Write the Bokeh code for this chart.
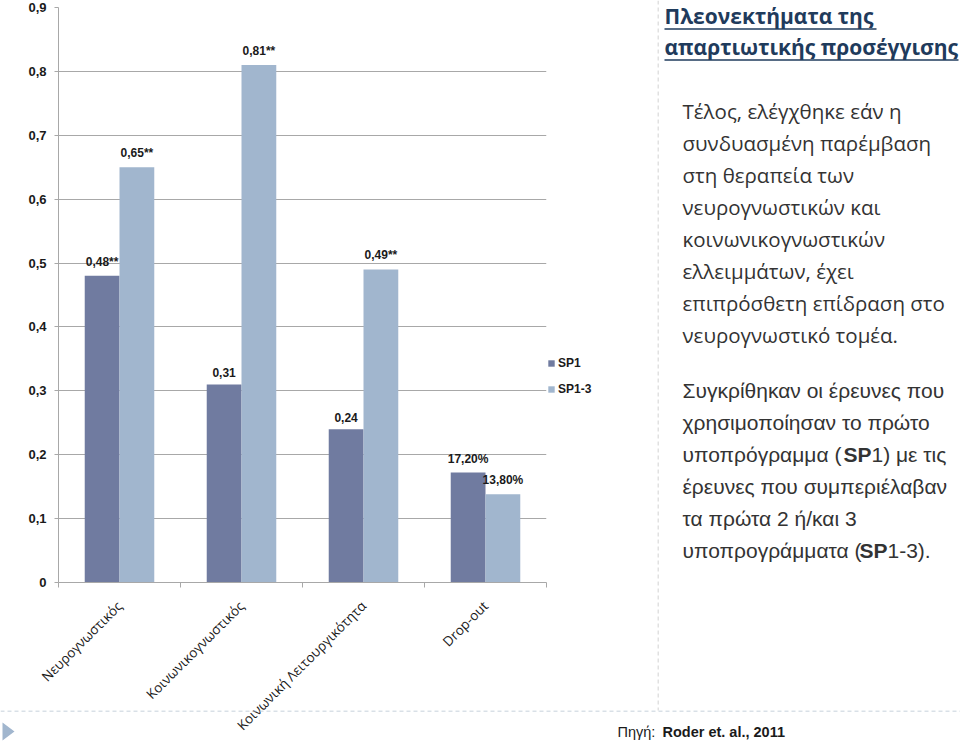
from math import pi
from bokeh.plotting import figure
from bokeh.layouts import column, row
from bokeh.models import (Range1d, FixedTicker, CustomJSTickFormatter, Legend, LegendItem,
                          Label, ColumnDataSource)
from bokeh.embed import file_html
from bokeh.resources import INLINE
from bokeh.core.properties import value

# ---------------- data ----------------
categories = ["Νευρογνωστικός", "Κοινωνικογνωστικός", "Κοινωνική Λειτουργικότητα", "Drop-out"]
series_names = ["SP1", "SP1-3"]
sp1_values = [0.48, 0.31, 0.24, 0.172]
sp13_values = [0.65, 0.81, 0.49, 0.138]
sp1_labels = ["0,48**", "0,31", "0,24", "17,20%"]
sp13_labels = ["0,65**", "0,81**", "0,49**", "13,80%"]
y_ticks = [0, 0.1, 0.2, 0.3, 0.4, 0.5, 0.6, 0.7, 0.8, 0.9]

title_lines = ["Πλεονεκτήματα της", "απαρτιωτικής προσέγγισης"]
paragraph1 = ["Τέλος, ελέγχθηκε εάν η", "συνδυασμένη παρέμβαση", "στη θεραπεία των",
              "νευρογνωστικών και", "κοινωνικογνωστικών", "ελλειμμάτων, έχει",
              "επιπρόσθετη επίδραση στο", "νευρογνωστικό τομέα."]
# paragraph 2: list of lines, each line a list of (text, bold) pieces
paragraph2 = [
    [("Συγκρίθηκαν οι έρευνες που", False)],
    [("χρησιμοποίησαν το πρώτο", False)],
    [("υποπρόγραμμα (", False), ("SP", True), ("1) με τις", False)],
    [("έρευνες που συμπεριέλαβαν", False)],
    [("τα πρώτα 2 ή/και 3", False)],
    [("υποπρογράμματα (", False), ("SP", True), ("1-3).", False)],
]
source_pieces = [("Πηγή: ", False), ("Roder et. al., 2011", True)]

# ---------------- styling ----------------
C_SP1 = "#707ba0"
C_SP13 = "#a1b6ce"
GRID = "#a8a8a8"
TITLE_C = "#1f3b5c"
TEXT_C = "#333333"
n = len(categories)
bw = 0.285

TOTAL_W, TOTAL_H = 960, 743
CHART_W = 547       # chart canvas width (frame 58..546)
SPLIT_X = 657       # vertical dashed separator
SPLIT_Y = 710       # horizontal dashed separator

# ================= chart =================
p = figure(width=CHART_W, height=TOTAL_H,
           x_range=Range1d(0, n), y_range=Range1d(0, 0.9),
           output_backend="svg", toolbar_location=None,
           min_border_left=58, min_border_right=1,
           min_border_top=7, min_border_bottom=TOTAL_H - 583,
           outline_line_color=None, background_fill_color="white",
           border_fill_color="white", frame_align=False)

ya = p.yaxis[0]
ya.ticker = FixedTicker(ticks=y_ticks)
ya.formatter = CustomJSTickFormatter(code='return tick == 0 ? "0" : tick.toFixed(1).replace(".", ",");')
ya.axis_line_color = GRID
ya.major_tick_line_color = GRID
ya.major_tick_out = 4
ya.major_tick_in = 0
ya.minor_tick_line_color = None
ya.major_label_standoff = 8
ya.major_label_text_font = "Liberation Sans"
ya.major_label_text_font_style = "bold"
ya.major_label_text_font_size = "13px"
ya.major_label_text_color = "#1a1a1a"

p.ygrid.grid_line_color = GRID
p.xgrid.visible = False

xa = p.xaxis[0]
xa.ticker = FixedTicker(ticks=[i + 0.5 for i in range(n)], minor_ticks=list(range(n + 1)))
xa.formatter = CustomJSTickFormatter(args=dict(cats=categories),
                                     code="return cats[Math.floor(tick)];")
xa.axis_line_color = GRID
xa.major_tick_line_color = None
xa.major_tick_out = 0
xa.major_tick_in = 0
xa.minor_tick_line_color = GRID
xa.minor_tick_out = 5
xa.minor_tick_in = 0
xa.major_label_orientation = pi / 4
xa.major_label_standoff = 16
xa.major_label_text_font = "Open Sans"
xa.major_label_text_font_size = "13.5px"
xa.major_label_text_color = "#1a1a1a"

idx = list(range(n))
src1 = ColumnDataSource(dict(x=[i + 0.5 - bw / 2 for i in idx], val=sp1_values, lab=sp1_labels))
src2 = ColumnDataSource(dict(x=[i + 0.5 + bw / 2 for i in idx], val=sp13_values, lab=sp13_labels))
p.vbar(x="x", top="val", width=bw, source=src1, fill_color=C_SP1, line_color=None)
p.vbar(x="x", top="val", width=bw, source=src2, fill_color=C_SP13, line_color=None)
for src in (src1, src2):
    p.text(x="x", y="val", text="lab", source=src,
           text_align="center", text_baseline="bottom", y_offset=-7,
           text_font=value("Liberation Sans"), text_font_style="bold",
           text_font_size="12px", text_color="#1a1a1a")


def blank(w, h, x0, x1, y0, y1, transparent=False):
    f = figure(width=w, height=h, x_range=Range1d(x0, x1), y_range=Range1d(y1, y0),
               output_backend="svg", toolbar_location=None,
               x_axis_location=None, y_axis_location=None,
               min_border=0, min_border_left=0, min_border_right=0,
               min_border_top=0, min_border_bottom=0,
               outline_line_color=None, background_fill_color="white",
               border_fill_color="white", frame_align=False)
    if transparent:
        f.background_fill_alpha = 0
        f.border_fill_alpha = 0
    f.xgrid.visible = False
    f.ygrid.visible = False
    return f


def lab(f, x, y, text, font, size, bold=False, color=TEXT_C):
    f.add_layout(Label(x=x, y=y, text=text, text_align="left", text_baseline="middle",
                       text_font=font, text_font_size=size,
                       text_font_style="bold" if bold else "normal",
                       text_color=color))


# ================= legend strip (page coordinates) =================
lf = blank(SPLIT_X - CHART_W, TOTAL_H, CHART_W, SPLIT_X, 0, TOTAL_H)
# legend proxies: one point each, placed outside the visible range
proxy = ColumnDataSource(dict(x=[-1000.0], top=[0.0]))
d1 = lf.vbar(x="x", top="top", width=1, source=proxy, fill_color=C_SP1, line_color=None)
d2 = lf.vbar(x="x", top="top", width=1, source=proxy, fill_color=C_SP13, line_color=None)
legend = Legend(items=[LegendItem(label=series_names[0], renderers=[d1]),
                       LegendItem(label=series_names[1], renderers=[d2])],
                location=(0, TOTAL_H - 399), orientation="vertical",
                glyph_width=8, glyph_height=8, label_standoff=3,
                label_height=20, spacing=6, padding=0, margin=0,
                border_line_color=None, background_fill_alpha=0,
                label_text_font="Liberation Sans", label_text_font_style="bold",
                label_text_font_size="12px", label_text_color="#1a1a1a")
lf.add_layout(legend)

# ================= right text panel (page coordinates) =================
t = blank(TOTAL_W - SPLIT_X, TOTAL_H, SPLIT_X, TOTAL_W, 0, TOTAL_H)
lab(t, 664, 15, title_lines[0], "Open Sans", "21px", True, TITLE_C)
lab(t, 664, 46, title_lines[1], "Open Sans", "21px", True, TITLE_C)
t.segment(x0=[664, 664], y0=[28.5, 59.5], x1=[876, 958], y1=[28.5, 59.5],
          line_color=TITLE_C, line_width=1.5)
for i, line in enumerate(paragraph1):
    lab(t, 682, 110 + 32 * i, line, "Open Sans", "20.5px", False, TEXT_C)
piece_x = {2: [682, 843, 871], 5: [682, 859, 887]}
for i, pieces in enumerate(paragraph2):
    xs = piece_x.get(i, [682])
    for (txt, bold), x in zip(pieces, xs):
        lab(t, x, 390 + 32 * i, txt, "Liberation Sans", "21px", bold, TEXT_C)
t.segment(x0=[SPLIT_X + 0.5], y0=[0], x1=[SPLIT_X + 0.5], y1=[SPLIT_Y],
          line_color="#c4c4c4", line_dash="4 3", line_width=1)

# ================= footer overlay (page coordinates) =================
fo = blank(TOTAL_W, TOTAL_H - SPLIT_Y, 0, TOTAL_W, SPLIT_Y, TOTAL_H, transparent=True)
fo.margin = (-(TOTAL_H - SPLIT_Y), 0, 0, 0)
fo.segment(x0=[0], y0=[SPLIT_Y + 0.5], x1=[TOTAL_W], y1=[SPLIT_Y + 0.5],
           line_color="#b4c2d0", line_dash="4 3", line_width=1)
fo.patch(x=[2, 2, 14], y=[722, 740, 731], fill_color=C_SP13, line_color=None)
lab(fo, 617, 731, source_pieces[0][0], "Liberation Sans", "14.5px", False, "#1a1a1a")
lab(fo, 662, 731, source_pieces[1][0], "Liberation Sans", "14.5px", True, "#1a1a1a")

layout = column(row(p, lf, t), fo)
open("out.html", "w").write(file_html(layout, INLINE))
